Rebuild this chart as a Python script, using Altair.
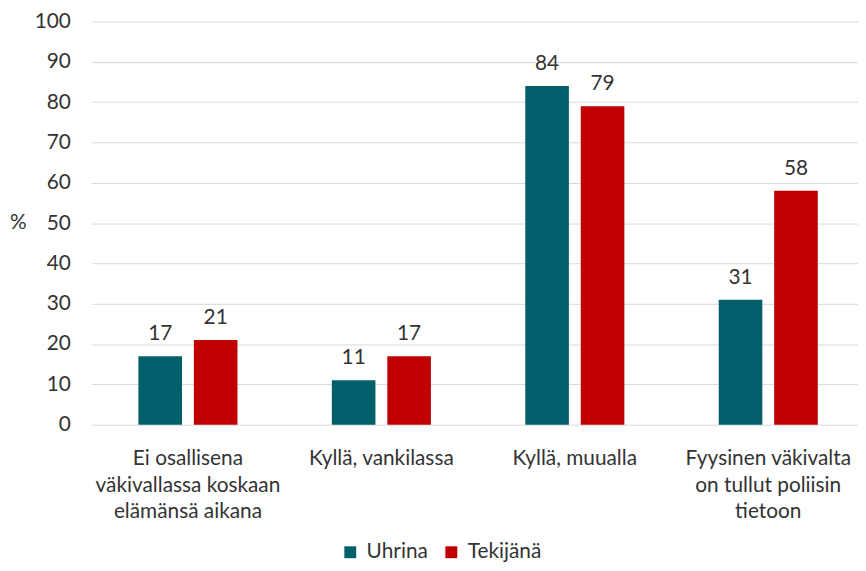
import altair as alt
import pandas as pd

categories = ["Ei osallisena|väkivallassa koskaan|elämänsä aikana",
              "Kyllä, vankilassa",
              "Kyllä, muualla",
              "Fyysinen väkivalta|on tullut poliisin|tietoon"]
series = ["Uhrina", "Tekijänä"]
uhrina = [17, 11, 84, 31]
tekijana = [21, 17, 79, 58]
colors = ["#005F6B", "#C00000"]

rows = []
for c, u, t in zip(categories, uhrina, tekijana):
    rows.append({"cat": c, "series": "Uhrina", "value": u})
    rows.append({"cat": c, "series": "Tekijänä", "value": t})
df = pd.DataFrame(rows)

FONT = "Lato"
TXT = "#333333"

x = alt.X("cat:N", sort=categories, title=None,
          scale=alt.Scale(paddingInner=0.072, paddingOuter=0.018, align=1),
          axis=alt.Axis(labelExpr="split(datum.label, '|')", labelAngle=0,
                        labelFont=FONT, labelFontSize=21, labelColor=TXT,
                        labelLineHeight=27, labelPadding=23, labelLimit=400,
                        domain=False, ticks=False, grid=False,
                        labelAlign="center", labelBaseline="top"))
xo = alt.XOffset("series:N", sort=series,
                 scale=alt.Scale(paddingInner=0.2143, paddingOuter=0.725))
y = alt.Y("value:Q", title="%",
          scale=alt.Scale(domain=[0, 100], nice=False),
          axis=alt.Axis(values=list(range(0, 101, 10)), grid=True,
                        gridColor="#D9D9D9", gridWidth=1, domain=False,
                        ticks=False, labelPadding=21, labelFont=FONT,
                        labelFontSize=21, labelColor=TXT,
                        titleAngle=0, titleX=-74, titleY=203,
                        titleAlign="center", titleBaseline="middle",
                        titleFont=FONT, titleFontSize=21, titleColor=TXT,
                        titleFontWeight="normal"))

bars = alt.Chart(df).mark_bar().encode(
    x=x, xOffset=xo, y=y,
    color=alt.Color("series:N", sort=series,
                    scale=alt.Scale(domain=series, range=colors),
                    legend=alt.Legend(title=None, orient="none", direction="horizontal",
                                      legendX=251, legendY=525,
                                      symbolType="square", symbolSize=144,
                                      symbolStrokeWidth=0,
                                      labelFont=FONT, labelFontSize=21,
                                      labelColor=TXT, labelOffset=6,
                                      columnPadding=13)),
)

labels = alt.Chart(df).mark_text(font=FONT, fontSize=21, color=TXT,
                                 baseline="alphabetic", dy=-16).encode(
    x=x, xOffset=xo, y=y, text=alt.Text("value:Q"),
)

chart = (bars + labels).properties(
    width=774, height=407,
    autosize=alt.AutoSizeParams(type="none"),
    padding={"left": 84, "top": 11, "right": 0, "bottom": 137},
).configure(background="white").configure_view(stroke="transparent", strokeWidth=0)

chart.save("out.html", embed_options={"renderer": "svg", "actions": False})
